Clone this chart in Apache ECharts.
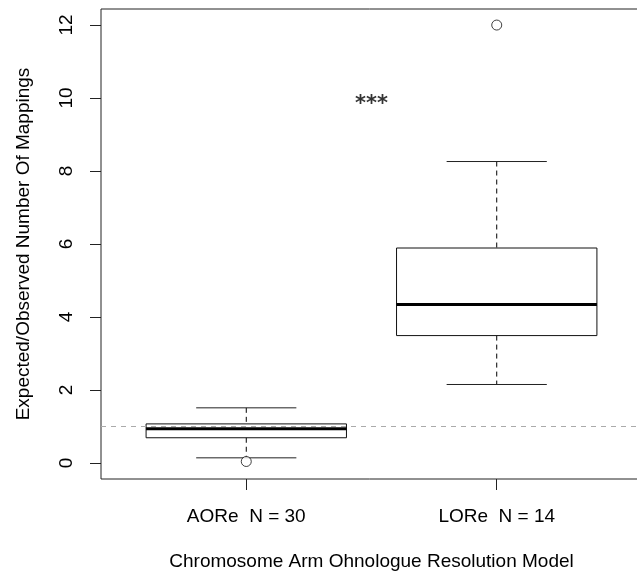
<!DOCTYPE html>
<html>
<head>
<meta charset="utf-8">
<title>Expected/Observed Number Of Mappings</title>
<script src="https://cdn.jsdelivr.net/npm/echarts@6/dist/echarts.min.js"></script>
<style>
  html, body { margin: 0; padding: 0; background: #fff; }
  #chart { width: 637px; height: 572px; }
</style>
</head>
<body>
<div id="chart"></div>
<script>
// box statistics
var groups = ['AORe  N = 30', 'LORe  N = 14'];
var lowerWhisker = [0.14, 2.15];
var lowerQuartile = [0.69, 3.49];
var medians = [0.94, 4.34];
var upperQuartile = [1.07, 5.89];
var upperWhisker = [1.51, 8.26];
var outliers = [[1, 0.04], [2, 12.0]];
var yTicks = [0, 2, 4, 6, 8, 10, 12];
var refLine = 1;
var starsAt = [[1.5, 9.82]];

var FONT = '"Liberation Sans", Arial, Helvetica, sans-serif';

var boxData = groups.map(function (g, i) {
  return [i + 1, lowerWhisker[i], lowerQuartile[i], medians[i], upperQuartile[i], upperWhisker[i]];
});

function renderBox(params, api) {
  var x = api.value(0);
  var half = api.size([0.4, 0])[0];   // box is 0.8 wide
  var capHalf = half / 2;
  var lo = api.coord([x, api.value(1)]);
  var q1 = api.coord([x, api.value(2)]);
  var md = api.coord([x, api.value(3)]);
  var q3 = api.coord([x, api.value(4)]);
  var hi = api.coord([x, api.value(5)]);
  var cx = lo[0];
  var dash = { stroke: '#000', lineWidth: 1, lineDash: [5, 4] };
  var solid = { stroke: '#222', lineWidth: 1 };
  return {
    type: 'group',
    children: [
      { type: 'line', shape: { x1: cx, y1: hi[1], x2: cx, y2: q3[1] }, style: dash },
      { type: 'line', shape: { x1: cx, y1: q1[1], x2: cx, y2: lo[1] }, style: dash },
      { type: 'line', shape: { x1: cx - capHalf, y1: hi[1], x2: cx + capHalf, y2: hi[1] }, style: solid },
      { type: 'line', shape: { x1: cx - capHalf, y1: lo[1], x2: cx + capHalf, y2: lo[1] }, style: solid },
      {
        type: 'rect',
        shape: { x: cx - half, y: q3[1], width: half * 2, height: q1[1] - q3[1] },
        style: { fill: 'rgba(255,255,255,0)', stroke: '#111', lineWidth: 1 }
      },
      { type: 'line', shape: { x1: cx - half, y1: md[1], x2: cx + half, y2: md[1] }, style: { stroke: '#000', lineWidth: 3 } }
    ]
  };
}

var chart = echarts.init(document.getElementById('chart'));
var option = {
  backgroundColor: '#fff',
  animation: false,
  grid: {
    left: 101,
    top: 9,
    width: 541,
    height: 470,
    show: true,
    borderColor: '#222',
    borderWidth: 1,
    backgroundColor: 'transparent',
    containLabel: false,
    outerBoundsMode: 'none'
  },
  xAxis: {
    type: 'value',
    min: 0.42,
    max: 2.58,
    splitLine: { show: false },
    axisLine: { show: false, onZero: false },
    axisTick: { show: true, length: 11, customValues: [1, 2], lineStyle: { color: '#222', width: 1 } },
    axisLabel: {
      customValues: [1, 2],
      margin: 28,
      color: '#000',
      fontSize: 19,
      fontFamily: FONT,
      formatter: function (v) { return groups[Math.round(v) - 1]; }
    },
    name: 'Chromosome Arm Ohnologue Resolution Model',
    nameLocation: 'middle',
    nameGap: 73,
    nameTextStyle: { color: '#000', fontSize: 19, fontFamily: FONT }
  },
  yAxis: {
    type: 'value',
    min: -0.44,
    max: 12.44,
    splitLine: { show: false },
    axisLine: { show: false, onZero: false },
    axisTick: { show: true, length: 11, customValues: yTicks, lineStyle: { color: '#222', width: 1 } },
    axisLabel: {
      customValues: yTicks,
      rotate: 90,
      margin: 25,
      color: '#000',
      fontSize: 19,
      fontFamily: FONT
    },
    name: 'Expected/Observed Number Of Mappings',
    nameLocation: 'middle',
    nameRotate: 90,
    nameGap: 68,
    nameTextStyle: { color: '#000', fontSize: 19, fontFamily: FONT }
  },
  series: [
    {
      type: 'custom',
      renderItem: renderBox,
      data: boxData,
      encode: { x: 0, y: [1, 2, 3, 4, 5] },
      z: 3,
      markLine: {
        silent: true,
        symbol: 'none',
        label: { show: false },
        lineStyle: { color: '#aaa', type: [5, 5], width: 1 },
        data: [{ yAxis: refLine }]
      }
    },
    {
      type: 'scatter',
      data: outliers,
      symbol: 'circle',
      symbolSize: 10,
      itemStyle: { color: '#fff', borderColor: '#111', borderWidth: 1 },
      z: 4
    },
    {
      type: 'scatter',
      data: starsAt,
      symbolSize: 0,
      label: {
        show: true,
        position: 'inside',
        formatter: '***',
        color: '#000',
        fontSize: 21,
        fontWeight: 'bold',
        fontFamily: '"DejaVu Sans", sans-serif'
      }
    }
  ]
};
chart.setOption(option);
</script>
</body>
</html>
